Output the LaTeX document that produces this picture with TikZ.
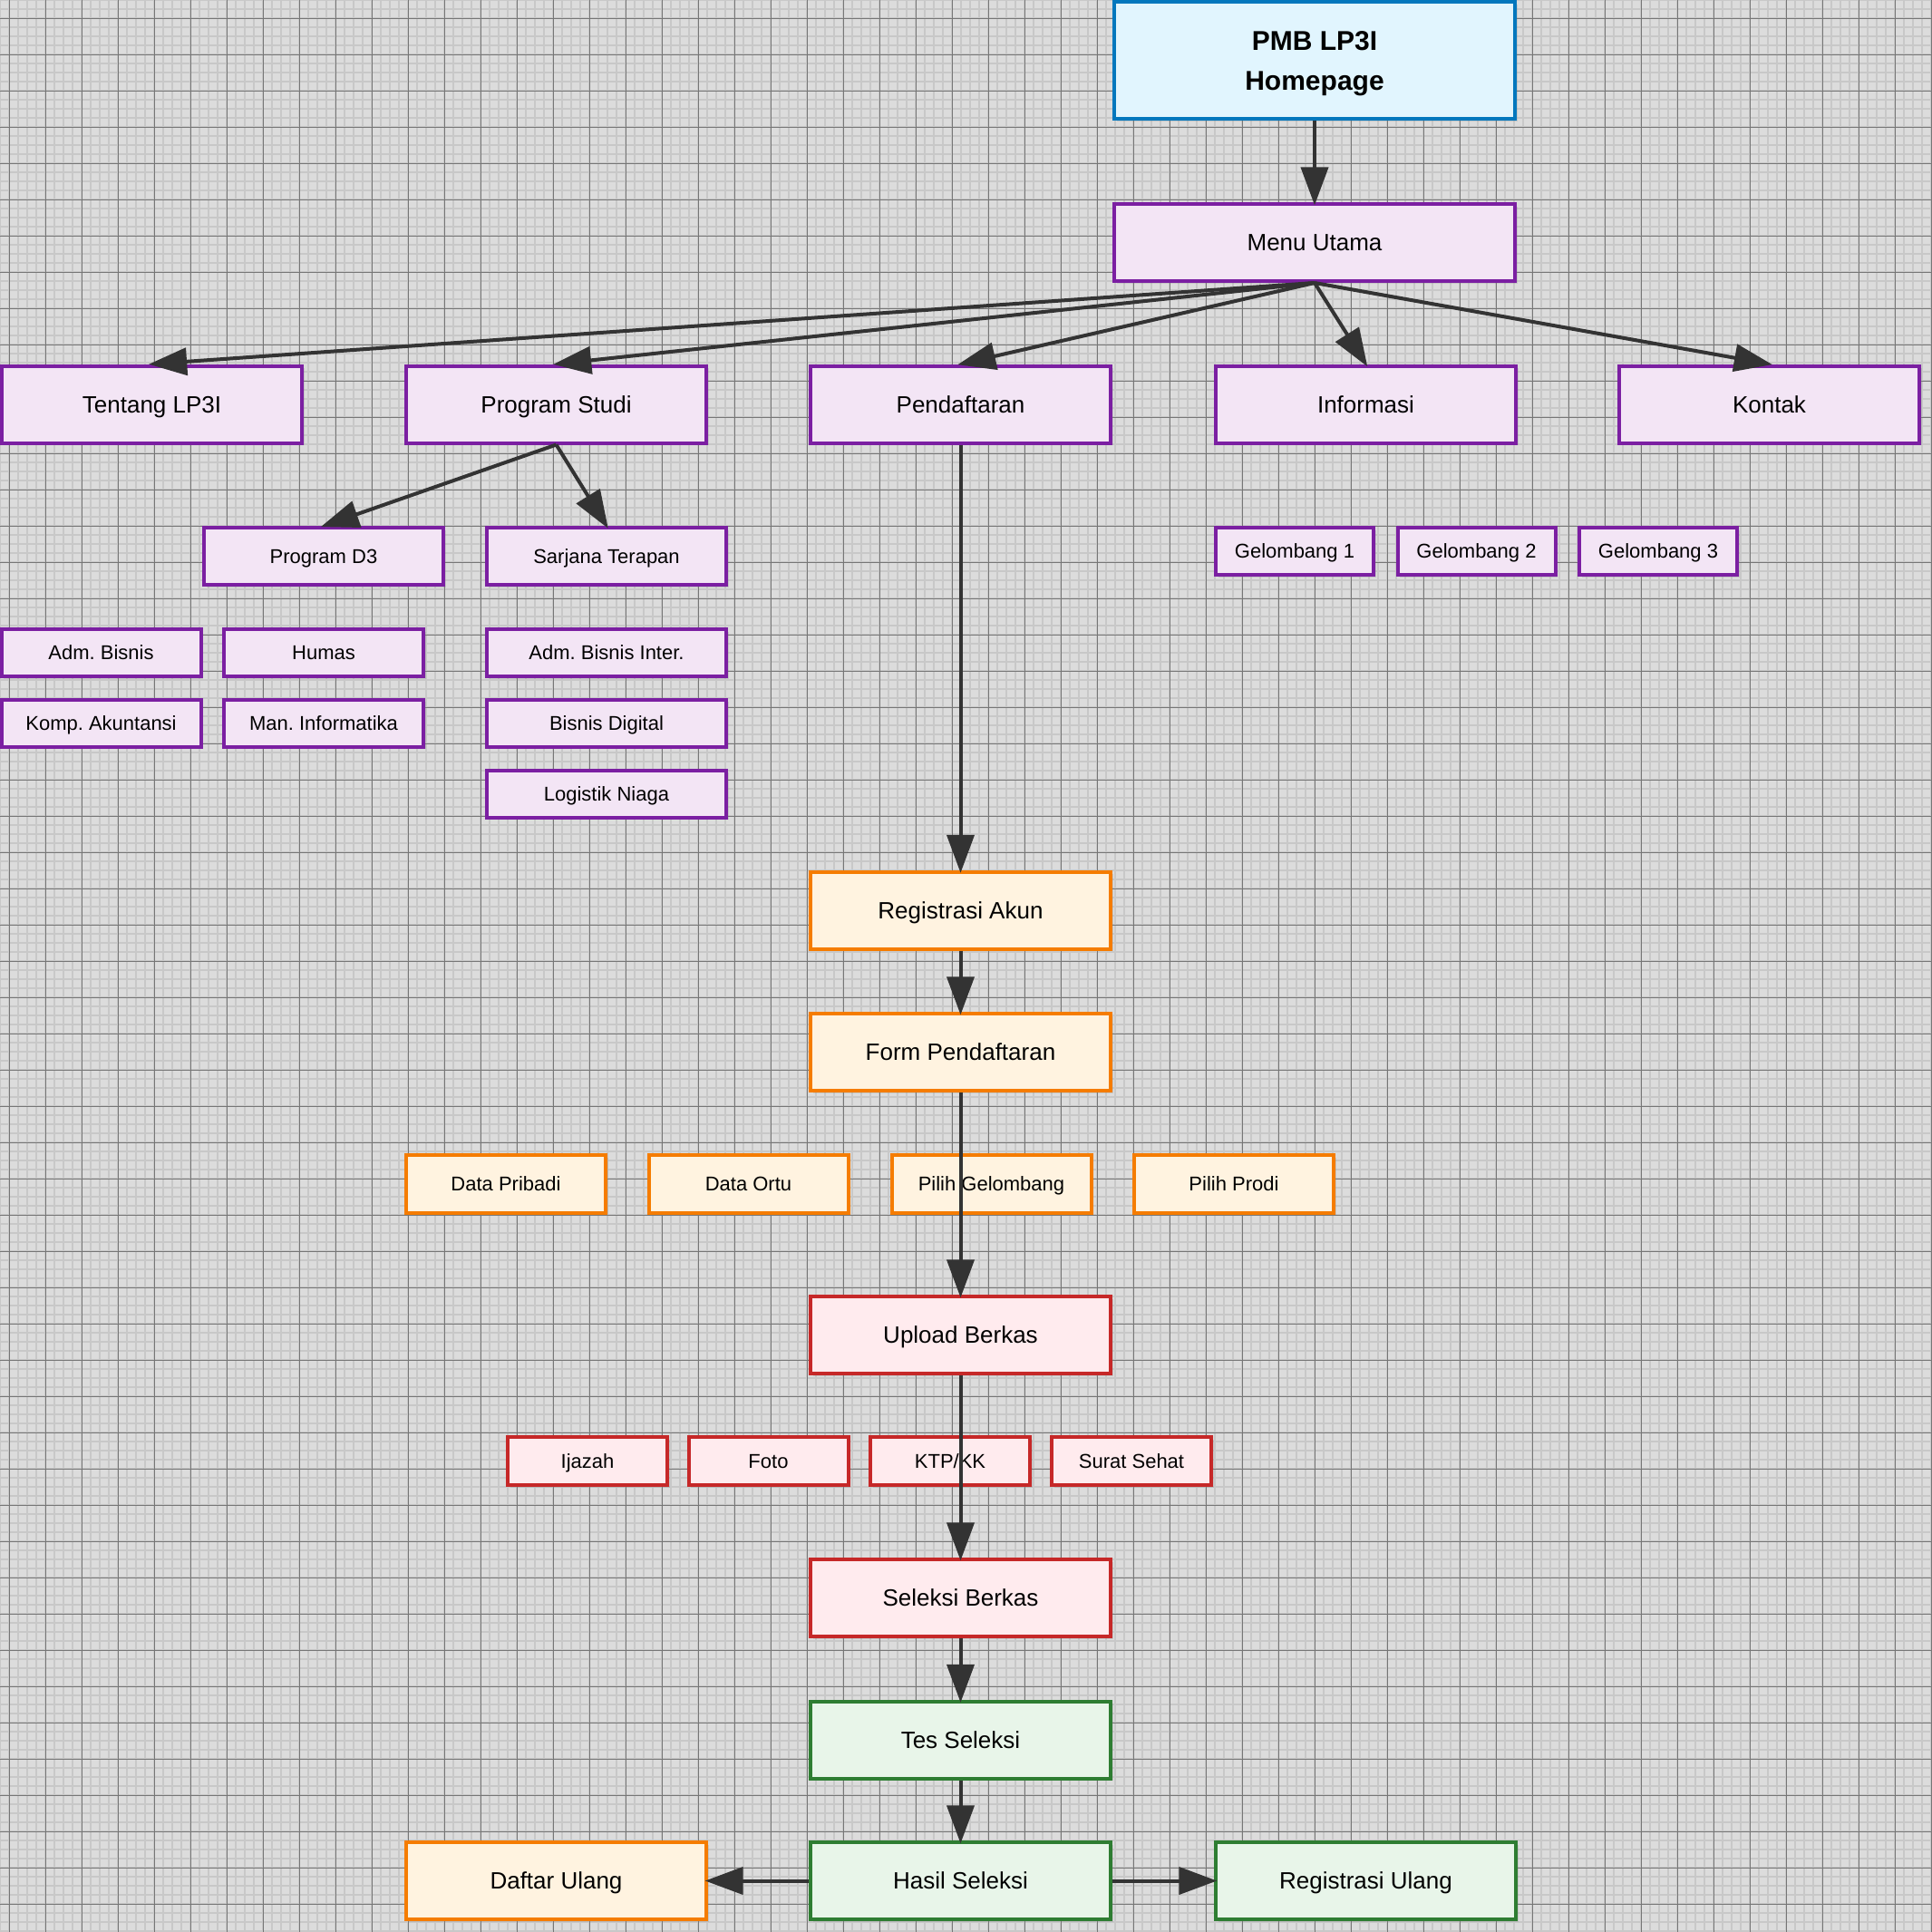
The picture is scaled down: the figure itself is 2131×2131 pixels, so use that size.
\documentclass[tikz,border=0pt]{standalone}
\usepackage{fontspec}
\setmainfont{Liberation Sans}
\frenchspacing
\usetikzlibrary{arrows.meta,shadows}
\definecolor{bgc}{HTML}{DCDCDC}
\definecolor{minorc}{HTML}{C8C8C8}
\definecolor{majorc}{HTML}{767676}
\definecolor{blueB}{HTML}{0277BD}
\definecolor{blueF}{HTML}{E1F5FE}
\definecolor{purpB}{HTML}{7B1FA2}
\definecolor{purpF}{HTML}{F3E5F5}
\definecolor{oranB}{HTML}{F57C00}
\definecolor{oranF}{HTML}{FFF3E0}
\definecolor{redB}{HTML}{C62828}
\definecolor{redF}{HTML}{FFEBEE}
\definecolor{grnB}{HTML}{2E7D32}
\definecolor{grnF}{HTML}{E8F5E9}
\definecolor{arrc}{HTML}{333333}
\begin{document}
\begin{tikzpicture}[x=0.75pt,y=-0.75pt,
  box/.style={draw, line width=3pt, inner sep=0pt, align=center, text=black,
    drop shadow={shadow xshift=2pt,shadow yshift=-2pt,opacity=0.22}},
  bigfont/.style={font=\fontsize{19.5pt}{23pt}\selectfont, text height=14pt, text depth=0pt},
  smallfont/.style={font=\fontsize{16.5pt}{20pt}\selectfont, text height=11.8pt, text depth=0pt},
  bigbox/.style={box, bigfont, minimum width=331*0.75pt, minimum height=85*0.75pt},
  wbox/.style={box, smallfont, minimum width=264*0.75pt, minimum height=63*0.75pt},
  lbox/.style={box, smallfont, minimum width=264*0.75pt, minimum height=52*0.75pt},
  pbox/.style={box, smallfont, minimum width=220*0.75pt, minimum height=52*0.75pt},
  gbox/.style={box, smallfont, minimum width=174*0.75pt, minimum height=52*0.75pt},
  dbox/.style={box, smallfont, minimum width=220*0.75pt, minimum height=64*0.75pt},
  ubox/.style={box, smallfont, minimum width=176*0.75pt, minimum height=53*0.75pt},
  cblue/.style={draw=blueB, fill=blueF},
  cpurp/.style={draw=purpB, fill=purpF},
  coran/.style={draw=oranB, fill=oranF},
  cred/.style={draw=redB, fill=redF},
  cgrn/.style={draw=grnB, fill=grnF},
  conn/.style={draw=arrc, line width=3pt, shorten >=-2.5pt,
    -{Triangle[length=31.5pt,width=22.5pt]}}
]
\useasboundingbox (0,0) rectangle (2131,2131);
\fill[bgc] (0,0) rectangle (2131,2131);
\foreach \i in {0,10,...,2130} {
  \draw[minorc, line width=0.9pt] (\i,0) -- (\i,2131);
  \draw[minorc, line width=0.9pt] (0,\i) -- (2131,\i);
}
\foreach \i in {10,50,...,2130} \draw[majorc, line width=0.75pt] (\i,0) -- (\i,2131);
\foreach \i in {20,60,...,2130} \draw[majorc, line width=0.75pt] (0,\i) -- (2131,\i);

% top
\node[box, cblue, minimum width=442*0.75pt, minimum height=129*0.75pt,
  font=\bfseries\fontsize{22.5pt}{33pt}\selectfont] (pmb) at (1450,66.5)
  {\rule{0pt}{22pt}PMB LP3I\\Homepage};
\node[bigbox, cpurp, minimum width=442*0.75pt] (menu) at (1450,267.5) {Menu Utama};

% level 2
\node[bigbox, cpurp] (tentang) at (167.5,446) {Tentang LP3I};
\node[bigbox, cpurp] (prodi) at (613.5,446) {Program Studi};
\node[bigbox, cpurp] (daftar) at (1059.5,446) {Pendaftaran};
\node[bigbox, cpurp] (info) at (1506.5,446) {Informasi};
\node[bigbox, cpurp] (kontak) at (1951.5,446) {Kontak};

% program studi
\node[wbox, cpurp] (d3) at (357,613.5) {Program D3};
\node[wbox, cpurp] (st) at (669,613.5) {Sarjana Terapan};
\node[pbox, cpurp] (admb) at (111.5,720) {Adm. Bisnis};
\node[pbox, cpurp] (humas) at (357,720) {Humas};
\node[pbox, cpurp] (komp) at (111.5,797.5) {Komp. Akuntansi};
\node[pbox, cpurp] (manin) at (357,797.5) {Man. Informatika};
\node[lbox, cpurp] (admbi) at (669,720) {Adm. Bisnis Inter.};
\node[lbox, cpurp] (bisdig) at (669,797.5) {Bisnis Digital};
\node[lbox, cpurp] (logn) at (669,875.5) {Logistik Niaga};

% gelombang
\node[gbox, cpurp] (gel1) at (1428,608) {Gelombang 1};
\node[gbox, cpurp] (gel2) at (1628.5,608) {Gelombang 2};
\node[gbox, cpurp] (gel3) at (1829,608) {Gelombang 3};

% flow
\node[bigbox, coran] (regak) at (1059.5,1004) {Registrasi Akun};
\node[bigbox, coran] (form) at (1059.5,1160.5) {Form Pendaftaran};
\node[dbox, coran] (dpri) at (558,1306) {Data Pribadi};
\node[dbox, coran] (dort) at (825.5,1306) {Data Ortu};
\node[dbox, coran] (pgel) at (1093.5,1306) {Pilih Gelombang};
\node[dbox, coran] (ppro) at (1361,1306) {Pilih Prodi};

\node[bigbox, cred] (upload) at (1059.5,1472.5) {Upload Berkas};
\node[ubox, cred] (ijazah) at (648,1611.5) {Ijazah};
\node[ubox, cred] (foto) at (847.5,1611.5) {Foto};
\node[ubox, cred] (ktp) at (1048,1611.5) {KTP/KK};
\node[ubox, cred] (surat) at (1248,1611.5) {Surat Sehat};
\node[bigbox, cred] (selb) at (1059.5,1762.5) {Seleksi Berkas};

\node[bigbox, cgrn] (tes) at (1059.5,1919) {Tes Seleksi};
\node[bigbox, cgrn] (hasil) at (1059.5,2074.5) {Hasil Seleksi};
\node[bigbox, coran] (dulang) at (613.5,2074.5) {Daftar Ulang};
\node[bigbox, cgrn] (rulang) at (1506.5,2074.5) {Registrasi Ulang};

% connectors
\draw[conn] (pmb.south) -- (menu.north);
\draw[conn] (menu.south) -- (tentang.north);
\draw[conn] (menu.south) -- (prodi.north);
\draw[conn] (menu.south) -- (daftar.north);
\draw[conn] (menu.south) -- (info.north);
\draw[conn] (menu.south) -- (kontak.north);
\draw[conn] (prodi.south) -- (d3.north);
\draw[conn] (prodi.south) -- (st.north);
\draw[conn] (daftar.south) -- (regak.north);
\draw[conn] (regak.south) -- (form.north);
\draw[conn] (form.south) -- (upload.north);
\draw[conn] (upload.south) -- (selb.north);
\draw[conn] (selb.south) -- (tes.north);
\draw[conn] (tes.south) -- (hasil.north);
\draw[conn] (hasil.west) -- (dulang.east);
\draw[conn] (hasil.east) -- (rulang.west);
\end{tikzpicture}
\end{document}
